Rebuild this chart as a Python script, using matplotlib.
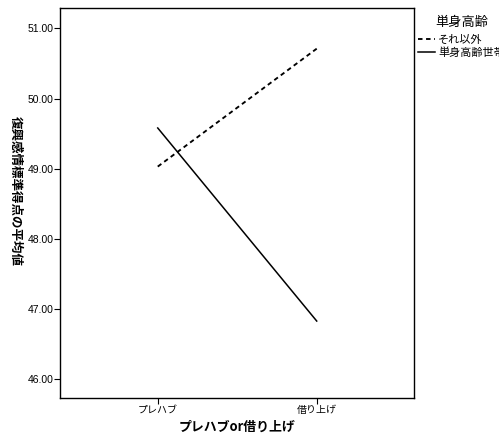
import matplotlib
matplotlib.use("Agg")
import matplotlib.pyplot as plt

plt.rcParams['font.family'] = ['Noto Sans CJK JP', 'DejaVu Sans']

categories = ["プレハブ", "借り上げ"]
series_names = ["それ以外", "単身高齢世帯"]
other_vals = [49.03, 50.71]
single_vals = [49.58, 46.83]
y_ticks = [46.0, 47.0, 48.0, 49.0, 50.0, 51.0]

W, H = 499, 441
fig = plt.figure(figsize=(W / 100, H / 100), dpi=100)
ax = fig.add_axes([60.3 / W, 1 - 397.7 / H, (414 - 60.3) / W, (397.7 - 8.3) / H])

x = list(range(len(categories)))
ax.plot(x, other_vals, color='black', linewidth=1.35, linestyle=(0, (2.4, 1.9)), label=series_names[0])
ax.plot(x, single_vals, color='black', linewidth=1.1, linestyle='-', label=series_names[1])

ax.set_xlim(-0.613, 1.612)
ax.set_ylim(45.738, 51.285)
ax.set_xticks(x)
ax.set_xticklabels(categories, fontsize=7.2)
ax.set_yticks(y_ticks)
ax.set_yticklabels([f"{v:.2f}" for v in y_ticks], fontsize=7.5, family='Liberation Sans')
ax.tick_params(axis='both', direction='out', length=4, width=0.8, pad=1)
for s in ax.spines.values():
    s.set_linewidth(1.0)

ax.set_xlabel("プレハブor借り上げ", fontsize=9.3, fontweight='bold', labelpad=4)
ylab = ax.set_ylabel("復興感情標準得点の平均値", fontsize=9, fontweight='bold', rotation=-90)
ylab.set_va('center')
ylab.set_ha('center')
ax.yaxis.set_label_coords((15 - 60.3) / (414 - 60.3), 0.53)

leg = ax.legend(loc='upper left', bbox_to_anchor=(1.004, 0.987), frameon=False,
                title="単身高齢", fontsize=8, title_fontsize=9.5,
                handlelength=1.55, handletextpad=0.3, borderaxespad=0, borderpad=0.2,
                labelspacing=0.25)
leg._legend_box.align = "center"
leg._legend_box.sep = 4.5

fig.savefig("out.png", dpi=100)
